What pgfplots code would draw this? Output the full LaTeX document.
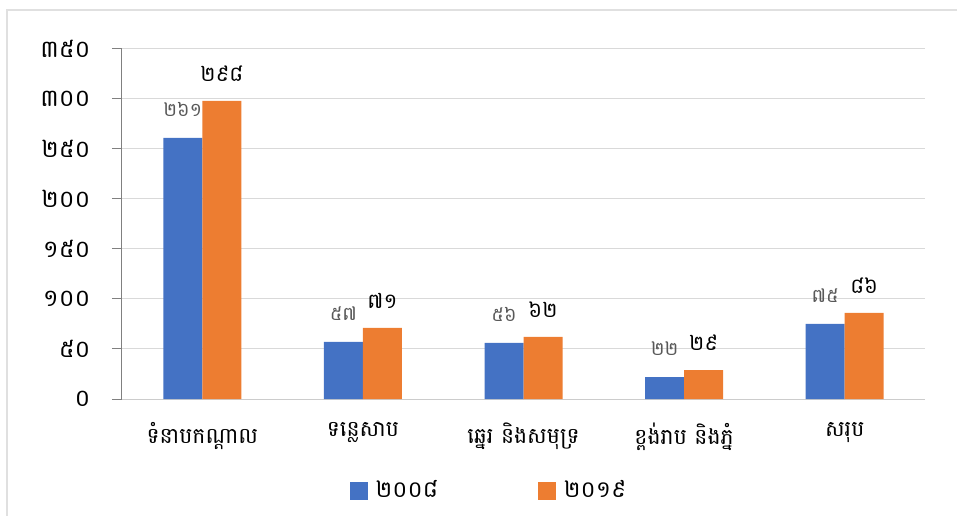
\documentclass[border=0pt]{standalone}
\usepackage{pgfplots}
\pgfplotsset{compat=1.18}
\usepackage{fontspec}
\newfontfamily\khmer[Script=Khmer]{Battambang}
\definecolor{cblue}{HTML}{4472C4}
\definecolor{corange}{HTML}{ED7D31}
\begin{document}
\begin{tikzpicture}
\path[use as bounding box] (-122pt,-117pt) rectangle (835pt,399pt);
\draw[black!12, line width=1.5pt] (-115pt,-117pt) -- (-115pt,389pt) -- (835pt,389pt);
\begin{axis}[
  at={(0pt,0pt)}, anchor=south west,
  scale only axis, width=803pt, height=350pt,
  ybar=0pt, bar width=39pt,
  xmin=-0.5, xmax=4.5, ymin=0, ymax=350,
  xtick={0,1,2,3,4},
  xticklabels={ទំនាបកណ្ដាល, ទន្លេសាប, ឆ្នេរ និងសមុទ្រ, ខ្ពង់រាប និងភ្នំ, សរុប},
  ytick={0,50,100,150,200,250,300,350},
  yticklabels={០,៥០,១០០,១៥០,២០០,២៥០,៣០០,៣៥០},
  axis x line*=bottom, axis y line*=left,
  x axis line style={black!20, line width=1pt},
  y axis line style={black!50, line width=1pt},
  ymajorgrids, grid style={black!15, line width=1pt},
  xtick style={draw=none},
  ytick style={black!50, line width=1pt},
  tick align=outside, major tick length=10pt,
  yticklabel style={font=\khmer\fontsize{24}{28}\selectfont, text=black, xshift=-18pt},
  xticklabel style={font=\khmer\fontsize{22}{26}\selectfont, text=black, yshift=-10pt},
  point meta=explicit symbolic,
  nodes near coords,
  legend style={at={(0.457,-0.26)}, anchor=center, draw=none,
    font=\khmer\fontsize{23}{27}\selectfont,
    /tikz/every odd column/.append style={column sep=6pt},
    /tikz/every even column/.append style={column sep=98pt}},
  legend columns=2,
  legend image code/.code={\fill[#1] (0pt,-10pt) rectangle (18pt,8pt);},
]
\addplot[fill=cblue, draw=none,
  every node near coord/.append style={font=\khmer\fontsize{19}{22}\selectfont, text=black!65, yshift=18pt}]
  coordinates {(0,261) [២៦១] (1,57) [៥៧] (2,56) [៥៦] (3,22) [២២] (4,75) [៧៥]};
\addplot[fill=corange, draw=none,
  every node near coord/.append style={font=\khmer\fontsize{21}{25}\selectfont, text=black, yshift=16pt}]
  coordinates {(0,298) [២៩៨] (1,71) [៧១] (2,62) [៦២] (3,29) [២៩] (4,86) [៨៦]};
\legend{២០០៨, ២០១៩}
\end{axis}
\end{tikzpicture}
\end{document}
